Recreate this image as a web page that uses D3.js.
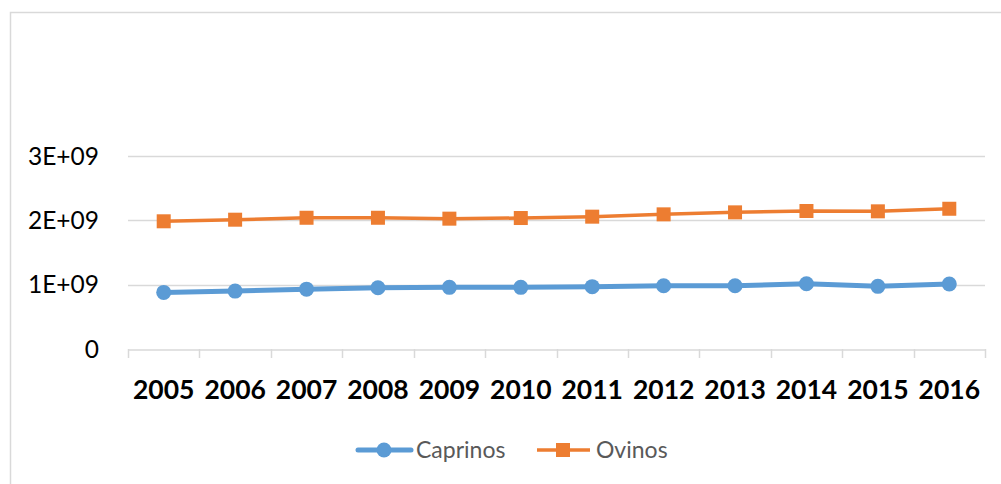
<!DOCTYPE html>
<html>
<head>
<meta charset="utf-8">
<script src="https://cdn.jsdelivr.net/npm/d3@7"></script>
<style>
  html, body { margin: 0; padding: 0; background: #fff; }
  svg { display: block; }
</style>
</head>
<body>
<svg id="chart" width="1001" height="484"></svg>
<script>
// Production series by year
const years = ["2005","2006","2007","2008","2009","2010","2011","2012","2013","2014","2015","2016"];
const caprinos = [0.88e9, 0.90e9, 0.93e9, 0.953e9, 0.958e9, 0.958e9, 0.969e9, 0.984e9, 0.984e9, 1.015e9, 0.974e9, 1.01e9];
const ovinos   = [1.985e9, 2.01e9, 2.04e9, 2.04e9, 2.026e9, 2.036e9, 2.057e9, 2.093e9, 2.124e9, 2.145e9, 2.14e9, 2.18e9];
const yTicks = [0, 1e9, 2e9, 3e9];
const yTickLabels = ["0", "1E+09", "2E+09", "3E+09"];
const seriesNames = ["Caprinos", "Ovinos"];

const svg = d3.select("#chart");
const blue = "#5B9BD5", orange = "#ED7D31", grid = "#D9D9D9";

// Outer chart frame
svg.append("rect")
  .attr("x", 10.5).attr("y", 12.5)
  .attr("width", 1100).attr("height", 600)
  .attr("fill", "none").attr("stroke", grid).attr("stroke-width", 1.5);

const plot = { left: 128, right: 985, top: 156, bottom: 349 };

const x = d3.scaleBand().domain(years).range([plot.left, plot.right]);
const y = d3.scaleLinear().domain([0, 3e9]).range([plot.bottom, plot.top]);

// Horizontal gridlines
svg.append("g").selectAll("line")
  .data(yTicks.filter(d => d > 0))
  .join("line")
  .attr("x1", plot.left).attr("x2", plot.right)
  .attr("y1", d => Math.round(y(d)) + 0.5).attr("y2", d => Math.round(y(d)) + 0.5)
  .attr("stroke", grid).attr("stroke-width", 1.5);

// Y axis labels
svg.append("g").selectAll("text")
  .data(yTicks)
  .join("text")
  .attr("x", 99)
  .attr("y", d => y(d))
  .attr("dy", "0.36em")
  .attr("text-anchor", "end")
  .attr("font-family", "Lato, 'Open Sans', sans-serif")
  .attr("font-size", 24.5)
  .attr("fill", "#000")
  .text((d, i) => yTickLabels[i]);

// X axis line with category boundary ticks
const xAxis = d3.axisBottom(x).tickSize(0).tickFormat(d => d);
const gx = svg.append("g")
  .attr("transform", `translate(0,${Math.round(plot.bottom) + 0.5})`)
  .call(xAxis);
gx.select(".domain").attr("stroke", grid).attr("stroke-width", 1.5);
gx.selectAll(".tick text")
  .attr("y", 40)
  .attr("dy", "0.36em")
  .attr("font-family", "Lato, 'Open Sans', sans-serif")
  .attr("font-weight", "bold")
  .attr("font-size", 26.5)
  .attr("fill", "#000");
const boundaries = years.map(d => x(d)).concat([x(years[years.length - 1]) + x.bandwidth()]);
svg.append("g").selectAll("line")
  .data(boundaries)
  .join("line")
  .attr("x1", d => Math.round(d) + 0.5).attr("x2", d => Math.round(d) + 0.5)
  .attr("y1", plot.bottom).attr("y2", plot.bottom + 9)
  .attr("stroke", grid).attr("stroke-width", 1.5);

const cx = d => x(d) + x.bandwidth() / 2;

// Ovinos line with square markers
const line = d3.line().x((d, i) => cx(years[i])).y(d => y(d));
svg.append("path")
  .datum(ovinos)
  .attr("d", line)
  .attr("fill", "none").attr("stroke", orange).attr("stroke-width", 3.5)
  .attr("stroke-linejoin", "round");
svg.append("g").selectAll("rect")
  .data(ovinos)
  .join("rect")
  .attr("x", (d, i) => cx(years[i]) - 7)
  .attr("y", d => y(d) - 7)
  .attr("width", 14).attr("height", 14)
  .attr("fill", orange);

// Caprinos line with circle markers
svg.append("path")
  .datum(caprinos)
  .attr("d", line)
  .attr("fill", "none").attr("stroke", blue).attr("stroke-width", 5)
  .attr("stroke-linejoin", "round").attr("stroke-linecap", "round");
svg.append("g").selectAll("circle")
  .data(caprinos)
  .join("circle")
  .attr("cx", (d, i) => cx(years[i]))
  .attr("cy", d => y(d))
  .attr("r", 7.5)
  .attr("fill", blue);

// Legend
const legend = svg.append("g");
const legY = 450;
legend.append("line")
  .attr("x1", 358).attr("x2", 411).attr("y1", legY).attr("y2", legY)
  .attr("stroke", blue).attr("stroke-width", 5).attr("stroke-linecap", "round");
legend.append("circle").attr("cx", 384).attr("cy", legY).attr("r", 7.5).attr("fill", blue);
legend.append("text")
  .attr("x", 416).attr("y", legY).attr("dy", "0.36em")
  .attr("font-family", "Lato, 'Open Sans', sans-serif")
  .attr("font-size", 23).attr("fill", "#595959")
  .text(seriesNames[0]);
legend.append("line")
  .attr("x1", 537).attr("x2", 590).attr("y1", legY).attr("y2", legY)
  .attr("stroke", orange).attr("stroke-width", 3.5);
legend.append("rect").attr("x", 556).attr("y", legY - 7).attr("width", 14).attr("height", 14).attr("fill", orange);
legend.append("text")
  .attr("x", 596).attr("y", legY).attr("dy", "0.36em")
  .attr("font-family", "Lato, 'Open Sans', sans-serif")
  .attr("font-size", 23).attr("fill", "#595959")
  .text(seriesNames[1]);
</script>
</body>
</html>
